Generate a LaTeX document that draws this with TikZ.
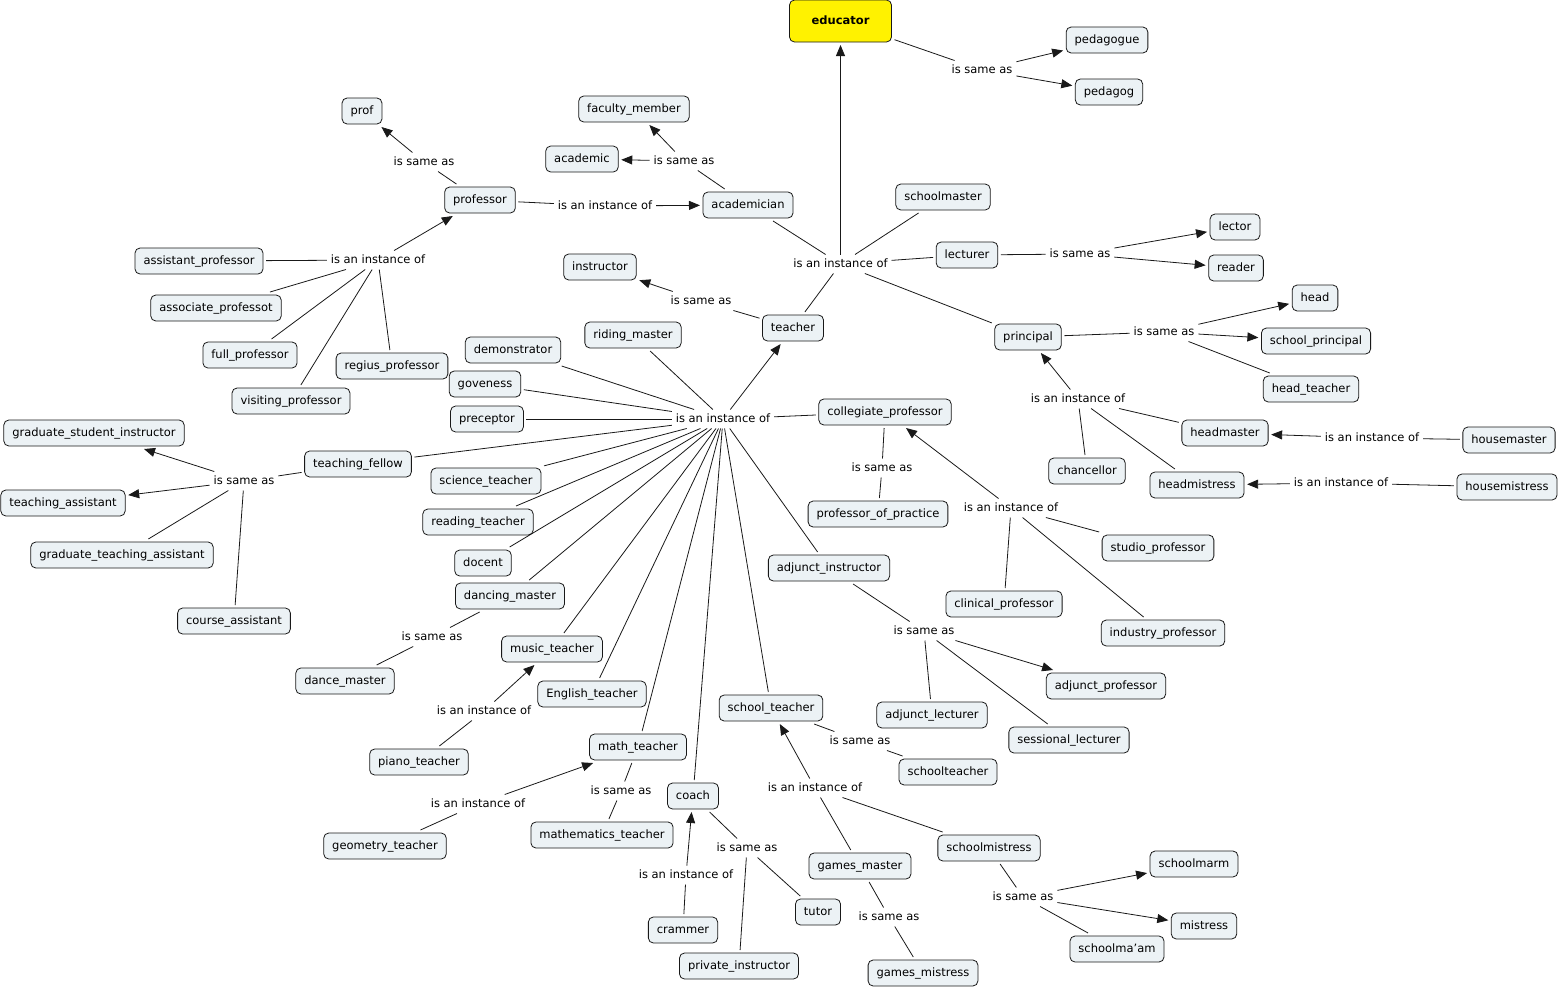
\documentclass[tikz,border=0pt]{standalone}
\usepackage{fontspec}
\setmainfont{DejaVu Sans}
\usetikzlibrary{arrows.meta}
\definecolor{boxfill}{RGB}{236,242,245}
\definecolor{linecol}{RGB}{25,25,25}
\begin{document}
\begin{tikzpicture}[x=1pt,y=-1pt,
		every node/.style={font=\fontsize{11.5}{14}\selectfont,text height=8.5pt,text depth=2.5pt},
		concept/.style={draw=linecol,line width=0.8pt,rounded corners=5pt,fill=boxfill,inner xsep=8.5pt,inner ysep=0pt,minimum height=26pt,outer sep=3pt},
		link/.style={inner sep=2.5pt,outer sep=1.5pt},
		con/.style={draw=linecol,line width=0.8pt},
		arr/.style={con,-{Triangle[length=11pt,width=9pt]}}]
	\useasboundingbox (0,0) rectangle (1559,989);
	% concepts
	\node[concept,fill=yellow,font=\fontsize{11.5}{14}\selectfont\bfseries,minimum width=102pt,minimum height=42pt] (educator) at (840.5,21) {educator};
	\node[concept] (pedagogue) at (1107,40) {pedagogue};
	\node[concept] (pedagog) at (1109,92) {pedagog};
	\node[concept] (prof) at (362,111) {prof};
	\node[concept] (faculty) at (634,109) {faculty\_member};
	\node[concept] (academic) at (582,159) {academic};
	\node[concept] (professor) at (480,200) {professor};
	\node[concept] (academician) at (748,205) {academician};
	\node[concept] (schoolmaster) at (943,197) {schoolmaster};
	\node[concept] (lector) at (1235,227) {lector};
	\node[concept] (reader) at (1236,268) {reader};
	\node[concept] (lecturer) at (967,255) {lecturer};
	\node[concept] (instructor) at (600,267) {instructor};
	\node[concept] (assistprof) at (199,261) {assistant\_professor};
	\node[concept] (assocprof) at (216,308) {associate\_professot};
	\node[concept] (fullprof) at (250,355) {full\_professor};
	\node[concept] (regius) at (392,366) {regius\_professor};
	\node[concept] (visiting) at (291,401) {visiting\_professor};
	\node[concept] (teacher) at (793,328) {teacher};
	\node[concept] (riding) at (633,335) {riding\_master};
	\node[concept] (demonstrator) at (513,350) {demonstrator};
	\node[concept] (goveness) at (485,384) {goveness};
	\node[concept] (preceptor) at (487,419) {preceptor};
	\node[concept] (head) at (1315,298) {head};
	\node[concept] (schoolprinc) at (1316,341) {school\_principal};
	\node[concept] (principal) at (1028,337) {principal};
	\node[concept] (headteacher) at (1311,389) {head\_teacher};
	\node[concept] (collegiate) at (885,412) {collegiate\_professor};
	\node[concept] (headmaster) at (1225,433) {headmaster};
	\node[concept] (housemaster) at (1509,440) {housemaster};
	\node[concept] (chancellor) at (1087,471) {chancellor};
	\node[concept] (headmistress) at (1197,485) {headmistress};
	\node[concept] (housemistress) at (1507,487) {housemistress};
	\node[concept] (gsi) at (94,433) {graduate\_student\_instructor};
	\node[concept] (fellow) at (358,464) {teaching\_fellow};
	\node[concept] (ta) at (63,503) {teaching\_assistant};
	\node[concept] (science) at (486,481) {science\_teacher};
	\node[concept] (reading) at (478,522) {reading\_teacher};
	\node[concept] (practice) at (878,514) {professor\_of\_practice};
	\node[concept] (studio) at (1158,548) {studio\_professor};
	\node[concept] (gta) at (122,555) {graduate\_teaching\_assistant};
	\node[concept] (docent) at (483,563) {docent};
	\node[concept] (adjinstr) at (829,568) {adjunct\_instructor};
	\node[concept] (dancing) at (510,596) {dancing\_master};
	\node[concept] (clinical) at (1004,604) {clinical\_professor};
	\node[concept] (course) at (234,621) {course\_assistant};
	\node[concept] (industry) at (1163,633) {industry\_professor};
	\node[concept] (music) at (552,649) {music\_teacher};
	\node[concept] (dance) at (345,681) {dance\_master};
	\node[concept] (adjprof) at (1106,686) {adjunct\_professor};
	\node[concept] (english) at (592,694) {English\_teacher};
	\node[concept] (schooltchr) at (771,708) {school\_teacher};
	\node[concept] (adjlect) at (932,715) {adjunct\_lecturer};
	\node[concept] (sessional) at (1069,740) {sessional\_lecturer};
	\node[concept] (math) at (638,747) {math\_teacher};
	\node[concept] (piano) at (419,762) {piano\_teacher};
	\node[concept] (schoolteacher) at (948,772) {schoolteacher};
	\node[concept] (coach) at (693,796) {coach};
	\node[concept] (mathematics) at (602,835) {mathematics\_teacher};
	\node[concept] (geometry) at (385,846) {geometry\_teacher};
	\node[concept] (schoolmistress) at (989,848) {schoolmistress};
	\node[concept] (gamesmaster) at (860,866) {games\_master};
	\node[concept] (schoolmarm) at (1194,864) {schoolmarm};
	\node[concept] (tutor) at (818,912) {tutor};
	\node[concept] (mistress) at (1204,926) {mistress};
	\node[concept] (crammer) at (683,930) {crammer};
	\node[concept] (schoolmaam) at (1117,949) {schoolma'am};
	\node[concept] (private) at (739,966) {private\_instructor};
	\node[concept] (gamesmistress) at (923,973) {games\_mistress};
	% linking phrases
	\node[link] (l1) at (982,70) {is same as};
	\node[link] (l2) at (424,162) {is same as};
	\node[link] (l3) at (684,161) {is same as};
	\node[link] (l4) at (605,206) {is an instance of};
	\node[link] (l5) at (378,260) {is an instance of};
	\node[link] (l6) at (840.5,264) {is an instance of};
	\node[link] (l7) at (1080,254) {is same as};
	\node[link] (l8) at (701,301) {is same as};
	\node[link] (l9) at (1164,332) {is same as};
	\node[link] (l10) at (1078,399) {is an instance of};
	\node[link] (l11) at (1372,438) {is an instance of};
	\node[link] (l12) at (1341,483) {is an instance of};
	\node[link] (l13) at (723,419) {is an instance of};
	\node[link] (l14) at (882,468) {is same as};
	\node[link] (l15) at (1011,508) {is an instance of};
	\node[link] (l16) at (244,481) {is same as};
	\node[link] (l17) at (432,637) {is same as};
	\node[link] (l18) at (924,631) {is same as};
	\node[link] (l19) at (484,711) {is an instance of};
	\node[link] (l20) at (860,741) {is same as};
	\node[link] (l21) at (815,788) {is an instance of};
	\node[link] (l22) at (621,791) {is same as};
	\node[link] (l23) at (478,804) {is an instance of};
	\node[link] (l24) at (747,848) {is same as};
	\node[link] (l25) at (686,875) {is an instance of};
	\node[link] (l26) at (889,917) {is same as};
	\node[link] (l27) at (1023,897) {is same as};
	% connections
	\draw[con] (educator) -- (l1);
	\draw[arr] (l1) -- (pedagogue);
	\draw[arr] (l1) -- (pedagog);
	\draw[con] (professor) -- (l2);
	\draw[arr] (l2) -- (prof);
	\draw[con] (academician) -- (l3);
	\draw[arr] (l3) -- (faculty);
	\draw[arr] (l3) -- (academic);
	\draw[con] (professor) -- (l4);
	\draw[arr] (l4) -- (academician);
	\foreach \n in {assistprof,assocprof,fullprof,regius,visiting}
		\draw[con] (\n) -- (l5);
	\draw[arr] (l5) -- (professor);
	\foreach \n in {academician,schoolmaster,lecturer,principal,teacher}
		\draw[con] (\n) -- (l6);
	\draw[arr] (l6) -- (educator);
	\draw[con] (lecturer) -- (l7);
	\draw[arr] (l7) -- (lector);
	\draw[arr] (l7) -- (reader);
	\draw[con] (teacher) -- (l8);
	\draw[arr] (l8) -- (instructor);
	\draw[con] (principal) -- (l9);
	\draw[arr] (l9) -- (head);
	\draw[arr] (l9) -- (schoolprinc);
	\draw[con] (l9) -- (headteacher);
	\foreach \n in {headmaster,chancellor,headmistress}
		\draw[con] (\n) -- (l10);
	\draw[arr] (l10) -- (principal);
	\draw[con] (housemaster) -- (l11);
	\draw[arr] (l11) -- (headmaster);
	\draw[con] (housemistress) -- (l12);
	\draw[arr] (l12) -- (headmistress);
	\foreach \n in {riding,demonstrator,goveness,preceptor,collegiate,fellow,science,reading,docent,dancing,music,english,math,coach,schooltchr,adjinstr}
		\draw[con] (\n) -- (l13);
	\draw[arr] (l13) -- (teacher);
	\draw[con] (collegiate) -- (l14);
	\draw[con] (l14) -- (practice);
	\foreach \n in {studio,clinical,industry}
		\draw[con] (\n) -- (l15);
	\draw[arr] (l15) -- (collegiate);
	\draw[con] (fellow) -- (l16);
	\draw[arr] (l16) -- (gsi);
	\draw[arr] (l16) -- (ta);
	\draw[con] (l16) -- (gta);
	\draw[con] (l16) -- (course);
	\draw[con] (dancing) -- (l17);
	\draw[con] (l17) -- (dance);
	\draw[con] (adjinstr) -- (l18);
	\draw[arr] (l18) -- (adjprof);
	\draw[con] (l18) -- (adjlect);
	\draw[con] (l18) -- (sessional);
	\draw[con] (piano) -- (l19);
	\draw[arr] (l19) -- (music);
	\draw[con] (schooltchr) -- (l20);
	\draw[con] (l20) -- (schoolteacher);
	\draw[con] (gamesmaster) -- (l21);
	\draw[con] (schoolmistress) -- (l21);
	\draw[arr] (l21) -- (schooltchr);
	\draw[con] (math) -- (l22);
	\draw[con] (l22) -- (mathematics);
	\draw[con] (geometry) -- (l23);
	\draw[arr] (l23) -- (math);
	\draw[con] (coach) -- (l24);
	\draw[con] (l24) -- (tutor);
	\draw[con] (l24) -- (private);
	\draw[con] (crammer) -- (l25);
	\draw[arr] (l25) -- (coach);
	\draw[con] (gamesmaster) -- (l26);
	\draw[con] (l26) -- (gamesmistress);
	\draw[con] (schoolmistress) -- (l27);
	\draw[arr] (l27) -- (schoolmarm);
	\draw[arr] (l27) -- (mistress);
	\draw[con] (l27) -- (schoolmaam);
\end{tikzpicture}
\end{document}
